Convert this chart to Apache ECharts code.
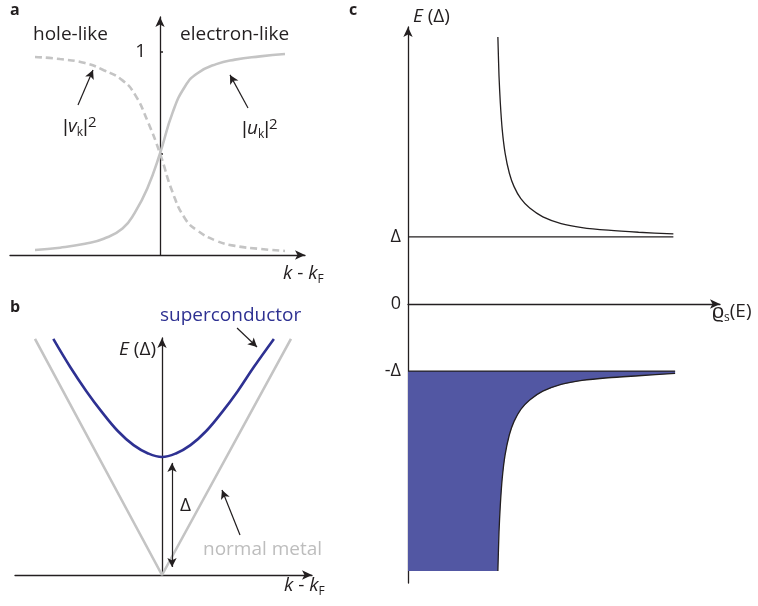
<!DOCTYPE html>
<html>
<head>
<meta charset="UTF-8">
<title>BCS</title>
<script src="https://cdn.jsdelivr.net/npm/echarts@6/dist/echarts.min.js"></script>
<style>
html,body{margin:0;padding:0;background:#fff;}
#main{width:758px;height:606px;}
</style>
</head>
<body>
<div id="main"></div>
<script type="text/javascript">
// panel a: coherence factors
var kA = [-1.0, -0.8, -0.6, -0.45, -0.3, -0.2, -0.1, 0, 0.1, 0.2, 0.3, 0.45, 0.6, 0.8, 1.0];
var uSq = [0.025, 0.036, 0.055, 0.08, 0.13, 0.21, 0.33, 0.5, 0.70, 0.83, 0.895, 0.94, 0.962, 0.978, 0.99];
var vSq = [0.975, 0.965, 0.945, 0.91, 0.86, 0.79, 0.66, 0.5, 0.31, 0.18, 0.12, 0.07, 0.045, 0.03, 0.02];
var tickA = [1];
var tickLabelsA = ['1'];

// panel b: dispersion
var kB = [-1.72, -1.45, -1.2, -0.95, -0.7, -0.45, -0.22, 0, 0.22, 0.45, 0.7, 0.95, 1.2, 1.45, 1.77];
var eSC = [2.0, 1.76, 1.56, 1.38, 1.22, 1.1, 1.03, 1.0, 1.03, 1.1, 1.22, 1.38, 1.56, 1.76, 2.0];
var kNM = [-2.01, 0, 2.04];
var eNM = [2.0, 0, 2.0];

// panel c: density of states
var rhoUp = [1.033, 1.046, 1.061, 1.083, 1.116, 1.165, 1.219, 1.297, 1.399, 1.55, 1.76, 2.0, 2.3, 2.65, 3.05];
var eUp = [3.98, 3.4, 3.0, 2.6, 2.25, 1.95, 1.75, 1.57, 1.43, 1.3, 1.2, 1.14, 1.1, 1.07, 1.045];
var rhoDn = [1.033, 1.046, 1.061, 1.083, 1.116, 1.165, 1.219, 1.297, 1.399, 1.55, 1.76, 2.0, 2.3, 2.65, 3.07];
var eDn = [-3.98, -3.4, -3.0, -2.6, -2.25, -1.95, -1.75, -1.57, -1.43, -1.3, -1.2, -1.14, -1.1, -1.07, -1.035];
var gapTicks = [-1, 0, 1];
var gapLabels = ['-Δ', '0', 'Δ'];

function pairs(xs, ys) {
	var out = [];
	for (var i = 0; i < xs.length; i++) out.push([xs[i], ys[i]]);
	return out;
}

var FONT = '"Open Sans", sans-serif';
var INK = '#231f20';
var GREY = '#c4c4c4';
var BLUE = '#2e3192';
var FILL = '#5257a3';

var axisLine = {onZero: true, symbol: ['none', 'arrow'], symbolSize: [7, 10], lineStyle: {color: INK, width: 1.3}};
function ax(grid, min, max, hidden) {
	return {type: 'value', gridIndex: grid, min: min, max: max, show: !hidden, axisLine: axisLine,
		axisTick: {show: false}, axisLabel: {show: false}, splitLine: {show: false}};
}

var yA = ax(0, 0, 1.172);
yA.axisTick = {show: true, inside: true, length: 3, customValues: [0.5, 1], lineStyle: {color: INK, width: 1.5}};
// labels stay at the grid edge, so push them over to the axis line at x = 0
yA.axisLabel = {show: true, customValues: tickA, margin: -136, fontSize: 19, fontFamily: FONT, color: INK,
	formatter: function (v) { return tickLabelsA[tickA.indexOf(v)]; }};

var yC = ax(2, -4.16, 4.13);
yC.axisLabel = {show: true, customValues: gapTicks, margin: 7, fontSize: 18, fontFamily: FONT, color: INK,
	formatter: function (v) { return gapLabels[gapTicks.indexOf(Math.round(v))]; }};

function arrowLines(xi, yi, list, both) {
	return {
		type: 'line', xAxisIndex: xi, yAxisIndex: yi, data: [], clip: false, silent: true,
		markLine: {
			silent: true, animation: false,
			symbol: both ? ['arrow', 'arrow'] : ['none', 'arrow'], symbolSize: [7, 9],
			label: {show: false}, emphasis: {disabled: true},
			lineStyle: {color: INK, width: 1.2, type: 'solid'},
			data: list.map(function (s) { return [{coord: s[0]}, {coord: s[1]}]; })
		}
	};
}

var rich = {
	n: {fontSize: 19, fontFamily: FONT, fill: INK, lineHeight: 24},
	b: {fontSize: 19, fontFamily: '"Liberation Sans", sans-serif', fill: INK, lineHeight: 24},
	i: {fontSize: 19, fontFamily: FONT, fontStyle: 'italic', fill: INK, lineHeight: 24},
	s: {fontSize: 12, fontFamily: FONT, fill: INK, verticalAlign: 'bottom', lineHeight: 13},
	p: {fontSize: 15, fontFamily: FONT, fill: INK, verticalAlign: 'top', lineHeight: 15},
	r: {fontSize: 21, fontFamily: FONT, fill: INK, lineHeight: 24}
};
function txt(x, y, text, opt) {
	opt = opt || {};
	return {type: 'text', x: x, y: y, silent: true, style: {
		text: text, rich: rich, fill: opt.fill || INK,
		font: (opt.weight || 'normal') + ' ' + (opt.size || 19) + 'px ' + FONT,
		textAlign: opt.align || 'left', textVerticalAlign: 'middle'}};
}

var option = {
	animation: false,
	grid: [
		{left: 10, top: 17, width: 295, height: 238, outerBoundsMode: 'none'},
		{left: 15, top: 338, width: 297, height: 237, outerBoundsMode: 'none'},
		{left: 408, top: 27, width: 312, height: 556, outerBoundsMode: 'none'},
		// same scale as panel b, taller, only for the annotation arrows
		{left: 15, top: 279, width: 297, height: 296, outerBoundsMode: 'none'}
	],
	xAxis: [ax(0, -1.2, 1.16), ax(1, -2.326, 2.373), ax(2, 0, 3.586), ax(3, -2.326, 2.373, true)],
	yAxis: [yA, ax(1, 0, 2.008), yC, ax(3, 0, 2.508, true)],
	series: [
		{type: 'line', xAxisIndex: 0, yAxisIndex: 0, data: pairs(kA, uSq), smooth: 0.5, showSymbol: false,
			lineStyle: {color: GREY, width: 2.6}},
		{type: 'line', xAxisIndex: 0, yAxisIndex: 0, data: pairs(kA, vSq), smooth: 0.5, showSymbol: false,
			lineStyle: {color: GREY, width: 2.6, type: [7, 4]}},
		arrowLines(0, 0, [
			[[-0.656, 0.739], [-0.536, 0.911]],
			[[0.704, 0.724], [0.56, 0.887]]
		]),
		{type: 'line', xAxisIndex: 1, yAxisIndex: 1, data: pairs(kNM, eNM), showSymbol: false,
			lineStyle: {color: GREY, width: 2.6}},
		{type: 'line', xAxisIndex: 1, yAxisIndex: 1, data: pairs(kB, eSC), smooth: 0.4, showSymbol: false,
			lineStyle: {color: BLUE, width: 2.6}},
		arrowLines(3, 3, [
			[[1.187, 2.093], [1.503, 1.932]],
			[[1.234, 0.339], [0.949, 0.72]]
		]),
		arrowLines(3, 3, [[[0.158, 0.95], [0.158, 0.068]]], true),
		{
			type: 'custom', xAxisIndex: 2, yAxisIndex: 2, data: [[0, -1]], silent: true, clip: false,
			renderItem: function (params, api) {
				var pts = [api.coord([0, -1]), api.coord([rhoDn[rhoDn.length - 1], -1])];
				for (var i = rhoDn.length - 1; i >= 0; i--) pts.push(api.coord([rhoDn[i], eDn[i]]));
				pts.push(api.coord([0, eDn[0]]));
				return {type: 'polygon', shape: {points: pts, smooth: 0}, style: {fill: FILL}};
			}
		},
		{type: 'line', xAxisIndex: 2, yAxisIndex: 2, data: pairs(rhoUp, eUp), smooth: 0.25,
			showSymbol: false, lineStyle: {color: INK, width: 1.3}},
		{type: 'line', xAxisIndex: 2, yAxisIndex: 2, data: pairs(rhoDn, eDn), smooth: 0.25,
			showSymbol: false, lineStyle: {color: INK, width: 1.3}},
		{type: 'line', xAxisIndex: 2, yAxisIndex: 2, data: [[0, 1], [rhoUp[rhoUp.length - 1], 1]], showSymbol: false,
			lineStyle: {color: INK, width: 1.3}},
		{type: 'line', xAxisIndex: 2, yAxisIndex: 2, data: [[0, -1], [rhoDn[rhoDn.length - 1], -1]], showSymbol: false,
			lineStyle: {color: INK, width: 1.3}}
	],
	graphic: [
		txt(10, 10, 'a', {weight: 'bold', size: 16}),
		txt(33, 35, 'hole-like'),
		txt(180, 35, 'electron-like'),
		txt(63, 127, '{b||}{i|v}{s|k}{b||}{p|2}'),
		txt(242, 129, '{b||}{i|u}{s|k}{b||}{p|2}'),
		txt(283, 274, '{i|k}{n| - }{i|k}{s|F}'),
		txt(10, 307, 'b', {weight: 'bold', size: 16}),
		txt(160, 316, 'superconductor', {fill: BLUE}),
		txt(156, 350, '{i|E}{n| (Δ)}', {align: 'right'}),
		txt(180, 506, 'Δ'),
		txt(203, 550, 'normal metal', {fill: '#bdbdbd'}),
		txt(284, 586, '{i|k}{n| - }{i|k}{s|F}'),
		txt(349, 10, 'c', {weight: 'bold', size: 16}),
		txt(413, 17, '{i|E}{n| (Δ)}'),
		txt(712, 312, '{r|ϱ}{s|s}{n|(E)}')
	]
};

var myChart = echarts.init(document.getElementById('main'));
myChart.setOption(option);
</script>
</body>
</html>
